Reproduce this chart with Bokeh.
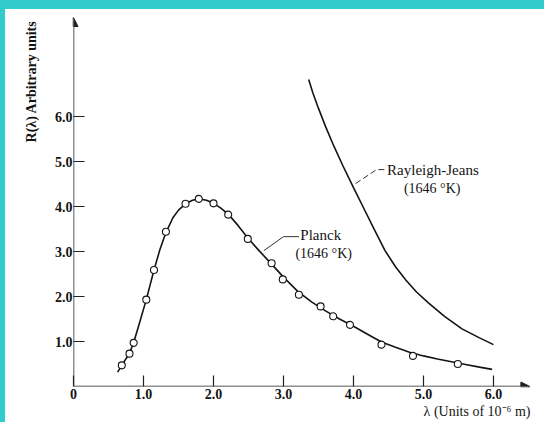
from bokeh.plotting import figure
from bokeh.models import Range1d, FixedTicker, Label, Arrow, NormalHead, Title, Div
from bokeh.layouts import column, row
from bokeh.embed import file_html
from bokeh.resources import INLINE

# ---- data ----
planck_pts_x = [0.69, 0.80, 0.86, 1.04, 1.15, 1.32, 1.60, 1.79, 2.00, 2.21,
                2.49, 2.83, 2.99, 3.22, 3.53, 3.71, 3.95, 4.40, 4.85, 5.49]
planck_pts_y = [0.47, 0.73, 0.97, 1.93, 2.59, 3.44, 4.06, 4.17, 4.07, 3.82,
                3.28, 2.74, 2.38, 2.04, 1.78, 1.56, 1.37, 0.93, 0.68, 0.50]

planck_curve_x = [0.63, 0.69, 0.80, 0.86, 0.95, 1.04, 1.15, 1.23, 1.32, 1.42,
                  1.50, 1.60, 1.70, 1.79, 1.90, 2.00, 2.10, 2.21, 2.35, 2.49,
                  2.65, 2.83, 3.00, 3.20, 3.40, 3.60, 3.80, 4.00, 4.20, 4.40,
                  4.60, 4.80, 5.00, 5.20, 5.40, 5.60, 5.80, 5.98]
planck_curve_y = [0.32, 0.47, 0.74, 0.98, 1.45, 1.93, 2.59, 3.02, 3.42, 3.75,
                  3.92, 4.06, 4.14, 4.17, 4.14, 4.07, 3.97, 3.83, 3.58, 3.30,
                  3.02, 2.72, 2.43, 2.12, 1.88, 1.68, 1.50, 1.34, 1.16, 0.99,
                  0.87, 0.76, 0.68, 0.61, 0.55, 0.49, 0.43, 0.38]

rj_x = [3.36, 3.42, 3.50, 3.60, 3.72, 3.85, 4.00, 4.15, 4.30, 4.45, 4.60,
        4.75, 4.90, 5.07, 5.30, 5.55, 5.80, 6.00]
rj_y = [6.82, 6.52, 6.18, 5.78, 5.34, 4.90, 4.42, 3.95, 3.48, 3.02, 2.66,
        2.36, 2.10, 1.86, 1.56, 1.28, 1.08, 0.93]

x_ticks = [0, 1, 2, 3, 4, 5, 6]
x_tick_labels = ["0", "1.0", "2.0", "3.0", "4.0", "5.0", "6.0"]
y_ticks = [1, 2, 3, 4, 5, 6]
y_tick_labels = ["1.0", "2.0", "3.0", "4.0", "5.0", "6.0"]

x_title = "λ (Units of 10⁻⁶ m)"
y_title = "R(λ) Arbitrary units"
planck_name = "Planck"
rj_name = "Rayleigh-Jeans"
temp_text = "(1646 °K)"

SERIF = "Liberation Serif"
INK = "#141414"
AXIS = "#222222"
FRAME_CYAN = "#33cccc"

p = figure(width=539, height=413, title=None, toolbar_location=None,
           output_backend="svg",
           x_range=Range1d(0, 6.6), y_range=Range1d(0, 374 / 45),
           min_border_left=68, min_border_right=9,
           min_border_top=3, min_border_bottom=36)
p.outline_line_color = None
p.background_fill_color = "white"
p.border_fill_color = "white"
p.xgrid.visible = False
p.ygrid.visible = False

for ax, ticks, labels in ((p.xaxis[0], x_ticks, x_tick_labels),
                          (p.yaxis[0], y_ticks, y_tick_labels)):
    ax.ticker = FixedTicker(ticks=ticks)
    ax.major_label_overrides = {t: l for t, l in zip(ticks, labels)}
    ax.axis_line_color = None
    ax.major_tick_in = 11
    ax.major_tick_out = 0
    ax.major_tick_line_color = AXIS
    ax.major_tick_line_width = 1.2
    ax.minor_tick_line_color = None
    ax.major_label_text_font = SERIF
    ax.major_label_text_font_style = "bold"
    ax.major_label_text_font_size = "14px"
    ax.major_label_text_color = INK
p.xaxis.major_label_standoff = 2
p.yaxis.major_label_standoff = 1

# axis titles as side-panel titles
xt = Title(text=x_title, align="right", offset=5, text_font=SERIF,
           text_font_size="14px", text_font_style="normal", text_color=INK)
yt = Title(text=y_title, align="right", offset=8, text_font=SERIF,
           text_font_size="14px", text_font_style="bold", text_color=INK)
if "standoff" in xt.properties():
    xt.standoff = 0
    yt.standoff = 26
p.add_layout(xt, "below")
p.add_layout(yt, "left")

# axis lines with arrow heads
p.add_layout(Arrow(end=NormalHead(size=9, fill_color=AXIS, line_color=AXIS),
                   x_start=0, y_start=0, x_end=6.52, y_end=0,
                   line_color=AXIS, line_width=1.5))
p.add_layout(Arrow(end=NormalHead(size=9, fill_color=AXIS, line_color=AXIS),
                   x_start=0, y_start=0, x_end=0, y_end=8.2,
                   line_color=AXIS, line_width=1.5))

# curves
p.line(rj_x, rj_y, line_color=INK, line_width=1.6)
p.line(planck_curve_x, planck_curve_y, line_color=INK, line_width=1.6)
p.scatter(planck_pts_x, planck_pts_y, marker="circle", size=7,
          fill_color="white", line_color=INK, line_width=1.1)

# leader lines
p.line([2.72, 3.0, 3.22], [3.02, 3.33, 3.33], line_color="#333333", line_width=1)
p.line([4.03, 4.33, 4.47], [4.51, 4.82, 4.82], line_color="#333333", line_width=1,
       line_dash="6 3")

def lab(x, y, t, size):
    p.add_layout(Label(x=x, y=y, text=t, text_font=SERIF, text_font_size=size,
                       text_color=INK, text_align="left", text_baseline="middle"))

lab(4.48, 4.82, rj_name, "15px")
lab(4.72, 4.40, temp_text, "14px")
lab(3.24, 3.36, planck_name, "15px")
lab(3.17, 2.96, temp_text, "14px")

# cyan frame strips of the reference picture (top and left edges)
top_strip = Div(text="", width=544, height=9, margin=0,
                styles={"background-color": FRAME_CYAN})
left_strip = Div(text="", width=5, height=413, margin=0,
                 styles={"background-color": FRAME_CYAN})
layout = column(top_strip, row(left_strip, p, spacing=0), spacing=0)

open("out.html", "w").write(file_html(layout, INLINE))
